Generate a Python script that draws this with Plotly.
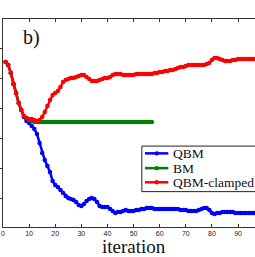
import plotly.graph_objects as go

# iteration index
iters_red = list(range(1, 101))
iters_green = list(range(1, 58))
iters_blue = list(range(1, 99))

red_vals = [166, 163, 155, 144, 135, 125, 118, 112, 110, 109,
            109, 108, 107, 108, 111, 116, 122, 128, 133, 135,
            137, 141, 146, 148, 149, 150, 150, 151, 152, 153,
            153, 151, 149, 147, 147, 147, 148, 149, 150, 150,
            151, 153, 154, 154, 154, 153, 153, 153, 153, 153,
            154, 154, 154, 154, 154, 154, 154, 155, 155, 156,
            156, 157, 157, 158, 158, 159, 160, 161, 161, 162,
            163, 163, 163, 163, 163, 163, 163, 164, 165, 168,
            170, 170, 169, 168, 167, 167, 167, 168, 168, 169,
            169, 169, 169, 169, 169, 169, 169, 169, 169, 169]

green_vals = [166, 163, 155, 144, 135, 125, 118, 112, 110, 108,
              107, 106] + [106] * 45

blue_vals = [166, 163, 155, 144, 135, 125, 118, 111, 107, 105,
             102, 99, 94, 85, 75, 68, 62, 56, 47, 43,
             41, 38, 35, 32, 30, 29, 28, 26, 23, 22,
             24, 27, 29, 30, 29, 26, 22, 21, 21, 21,
             19, 17, 15, 16, 16, 17, 18, 17, 17, 17,
             18, 18, 19, 19, 20, 20, 20, 19, 19, 19,
             19, 19, 19, 19, 19, 19, 19, 18, 18, 18,
             17, 17, 17, 17, 18, 19, 20, 20, 18, 15,
             14, 15, 15, 16, 16, 16, 16, 16, 15, 15,
             15, 15, 15, 15, 15, 15, 15, 15]

series_names = ["QBM", "BM", "QBM-clamped"]
series_colors = ["#0000ff", "#008000", "#ff0000"]
x_ticks = [0, 10, 20, 30, 40, 50, 60, 70, 80, 90]
y_ticks = [30, 60, 90, 120, 150, 180]

fig = go.Figure()
for name, xs, ys, col in zip(series_names,
                             [iters_blue, iters_green, iters_red],
                             [blue_vals, green_vals, red_vals],
                             series_colors):
    fig.add_trace(go.Scatter(x=xs, y=ys, name=name, mode="lines+markers",
                             line=dict(color=col, width=2.5),
                             marker=dict(color=col, size=4.5),
                             showlegend=False))

axis_col = "#333333"
fig.update_xaxes(range=[0, 96.5], tickvals=x_ticks, ticks="inside", ticklen=3,
                 tickcolor=axis_col, showline=True, linecolor=axis_col, linewidth=1,
                 mirror="ticks", showgrid=False, zeroline=False,
                 tickfont=dict(family="Liberation Sans", size=7, color="#222"))
fig.update_yaxes(range=[1, 209], tickvals=y_ticks, ticks="outside", ticklen=3,
                 tickcolor=axis_col, showline=True, linecolor=axis_col, linewidth=1,
                 showticklabels=False, showgrid=False, zeroline=False)

# legend box drawn manually (matches compact original)
shapes = [dict(type="rect", xref="paper", yref="paper", x0=0.551, x1=1.02,
               y0=0.170, y1=0.389, line=dict(color="#222", width=1),
               fillcolor="white", layer="above")]
annotations = []
rows = [0.354, 0.283, 0.215]
for name, col, ry in zip(series_names, series_colors, rows):
    shapes.append(dict(type="line", xref="paper", yref="paper", x0=0.5635, x1=0.656,
                       y0=ry, y1=ry, line=dict(color=col, width=2.5)))
    shapes.append(dict(type="circle", xref="paper", yref="paper",
                       xsizemode="pixel", ysizemode="pixel",
                       xanchor=0.61, yanchor=ry, x0=-2.2, x1=2.2, y0=-2.2, y1=2.2,
                       fillcolor=col, line=dict(color=col, width=0)))
    annotations.append(dict(text=name, xref="paper", yref="paper", x=0.667, y=ry,
                            xanchor="left", yanchor="middle", showarrow=False,
                            font=dict(family="Liberation Serif", size=13.5, color="#111")))

annotations.append(dict(text="iteration", xref="x", yref="paper", x=50, y=-0.094,
                        xanchor="center", yanchor="middle", showarrow=False,
                        font=dict(family="Liberation Serif", size=19, color="#111")))
annotations.append(dict(text="b)", xref="paper", yref="paper", x=0.113, y=0.913,
                        xanchor="center", yanchor="middle", showarrow=False,
                        font=dict(family="Liberation Serif", size=20, color="#111")))

fig.update_layout(width=255, height=257, margin=dict(l=3, r=0, t=19, b=30),
                  plot_bgcolor="white", paper_bgcolor="white",
                  shapes=shapes, annotations=annotations)

fig.write_html("out.html", config={"displayModeBar": False},
               post_script="document.body.style.margin='0';document.body.style.overflow='hidden';")
